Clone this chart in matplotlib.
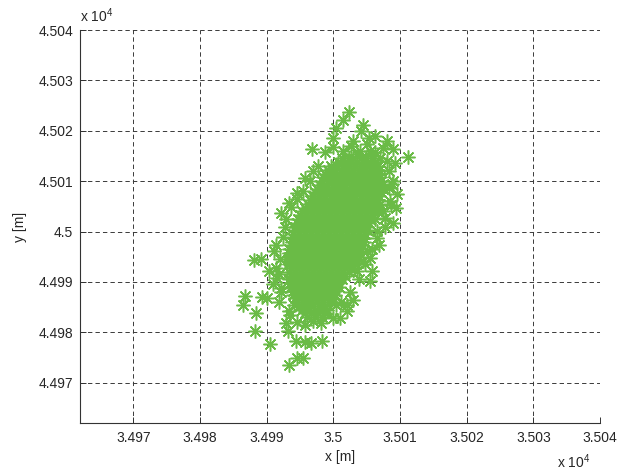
import matplotlib.pyplot as plt
from matplotlib.ticker import FuncFormatter, MultipleLocator

plt.rcParams['font.family'] = ['Liberation Sans', 'DejaVu Sans']
plt.rcParams['mathtext.fontset'] = 'custom'
plt.rcParams['mathtext.rm'] = 'Liberation Sans'

# reference point of the local grid [m]; positions below are offsets from it
ref_x, ref_y = 35000.0, 45000.0

# dense centre of the cloud, read row by row (north offset, east offsets)
core_y = [14.5, 13.75, 13.0, 12.25, 11.5, 10.75, 10.0, 9.25, 8.5, 7.75, 7.0,
          6.25, 5.5, 4.75, 4.0, 3.25, 2.5, 1.75, 1.0, 0.25, -0.5, -1.25,
          -2.0, -2.75, -3.5, -4.25, -5.0, -5.75, -6.5, -7.25, -8.0, -8.75,
          -9.5, -10.25, -11.0, -11.75, -12.5, -13.25, -14.0, -14.75, -15.5,
          -16.25, -17.0]
core_x = [
    [1.3, 2.3, 3.0, 4.1, 4.9, 5.9],
    [0.7, 1.7, 2.6, 3.6, 4.5, 5.5, 6.3],
    [-0.3, 0.6, 1.6, 2.4, 3.3, 4.3, 5.1, 6.0, 6.7],
    [-0.8, 0.1, 1.1, 2.0, 3.0, 3.9, 4.8, 5.8, 6.8],
    [-1.3, -0.4, 0.5, 1.5, 2.3, 3.2, 4.1, 5.1, 5.9, 6.9],
    [-1.5, -0.5, 0.4, 1.4, 2.3, 3.3, 4.2, 5.2, 6.1, 7.0],
    [-1.7, -0.8, 0.2, 1.0, 1.9, 2.9, 3.7, 4.6, 5.5, 6.4, 7.2],
    [-2.0, -1.1, -0.1, 0.8, 1.8, 2.7, 3.6, 4.5, 5.5, 6.4, 7.3],
    [-2.4, -1.5, -0.6, 0.3, 1.2, 2.1, 3.1, 3.9, 4.8, 5.7, 6.6, 7.4],
    [-2.8, -1.8, -0.9, 0.1, 1.0, 1.9, 2.8, 3.8, 4.7, 5.6, 6.5, 7.1],
    [-3.1, -2.2, -1.3, -0.4, 0.5, 1.4, 2.3, 3.2, 4.1, 5.0, 5.9, 6.8],
    [-3.5, -2.5, -1.6, -0.7, 0.2, 1.1, 2.0, 3.0, 3.9, 4.8, 5.7, 6.6],
    [-3.8, -2.9, -2.0, -1.1, -0.2, 0.7, 1.6, 2.5, 3.4, 4.3, 5.2, 6.1, 7.0],
    [-4.2, -3.3, -2.4, -1.5, -0.6, 0.3, 1.2, 2.1, 3.0, 3.9, 4.8, 5.7, 6.5],
    [-4.7, -3.8, -2.9, -2.0, -1.1, -0.2, 0.7, 1.6, 2.5, 3.4, 4.3, 5.2, 6.1, 6.6],
    [-5.0, -4.1, -3.2, -2.3, -1.4, -0.5, 0.4, 1.3, 2.2, 3.1, 4.0, 4.9, 5.8],
    [-5.3, -4.4, -3.5, -2.6, -1.7, -0.8, 0.1, 1.0, 1.9, 2.8, 3.7, 4.6, 5.5, 6.2],
    [-5.5, -4.6, -3.7, -2.8, -1.9, -1.0, -0.1, 0.8, 1.7, 2.6, 3.5, 4.4, 5.3],
    [-5.7, -4.8, -3.9, -3.0, -2.1, -1.2, -0.3, 0.6, 1.5, 2.4, 3.3, 4.2, 5.1],
    [-5.8, -4.9, -4.0, -3.1, -2.2, -1.3, -0.4, 0.5, 1.4, 2.3, 3.2, 4.1, 5.0],
    [-6.0, -5.1, -4.2, -3.3, -2.4, -1.5, -0.6, 0.3, 1.2, 2.1, 3.0, 3.9, 4.8],
    [-6.1, -5.2, -4.3, -3.4, -2.5, -1.6, -0.7, 0.2, 1.1, 2.0, 2.9, 3.8, 4.6],
    [-6.2, -5.3, -4.4, -3.5, -2.6, -1.7, -0.8, 0.1, 1.0, 1.9, 2.8, 3.7, 4.6],
    [-6.4, -5.5, -4.6, -3.7, -2.8, -1.9, -1.0, -0.1, 0.8, 1.7, 2.6, 3.5, 4.3],
    [-6.6, -5.7, -4.8, -3.9, -3.0, -2.1, -1.2, -0.3, 0.6, 1.5, 2.4, 3.3, 4.2],
    [-6.6, -5.7, -4.8, -3.9, -3.0, -2.1, -1.2, -0.3, 0.6, 1.5, 2.4, 3.3, 3.9],
    [-6.7, -5.8, -4.9, -4.0, -3.1, -2.2, -1.3, -0.4, 0.5, 1.4, 2.3, 3.2, 3.8],
    [-6.7, -5.8, -4.9, -4.0, -3.1, -2.2, -1.3, -0.4, 0.5, 1.4, 2.3, 3.3],
    [-6.7, -5.8, -4.9, -4.0, -3.1, -2.2, -1.3, -0.4, 0.5, 1.4, 2.3, 3.2],
    [-6.4, -5.5, -4.6, -3.7, -2.8, -1.9, -1.0, -0.1, 0.8, 1.7, 2.7],
    [-6.7, -5.8, -4.9, -4.0, -3.1, -2.2, -1.3, -0.4, 0.5, 1.4, 2.3],
    [-6.4, -5.5, -4.6, -3.7, -2.8, -1.9, -1.0, -0.1, 0.8, 1.8],
    [-6.7, -5.8, -4.9, -4.0, -3.1, -2.2, -1.3, -0.4, 0.5, 1.3],
    [-6.5, -5.6, -4.7, -3.8, -2.9, -2.0, -1.1, -0.2, 0.7],
    [-6.3, -5.4, -4.5, -3.6, -2.7, -1.8, -0.9, 0.0, 0.8],
    [-6.1, -5.2, -4.3, -3.4, -2.5, -1.6, -0.7, 0.3],
    [-6.0, -5.1, -4.2, -3.3, -2.4, -1.5, -0.6, 0.3],
    [-5.7, -4.8, -3.9, -3.0, -2.1, -1.2, -0.2],
    [-5.5, -4.5, -3.5, -2.5, -1.5, -0.4],
    [-5.1, -4.1, -3.1, -2.1, -1.2],
    [-4.7, -3.7, -2.7, -1.7, -0.9],
    [-4.3, -3.3, -2.3, -1.3],
    [-3.9, -2.8, -1.7],
]

# scattered points around the centre (east, north offsets)
out_x = [2.4, 1.4, 0.45, -0.05, 4.4, 4.1, 5.3, 6.3, 8.0, 9.0, 11.2, 9.3,
         -3.2, -1.2, 2.7, 1.5, -2.3, -3.1, -4.3, -5.4, -6.6, -7.9, -7.1,
         9.0, 9.5, 9.4, 9.0, 7.8, 6.8, 5.5, 5.8, 5.5, 3.0, 2.0, 1.0,
         -8.6, -8.9, -11.9, -10.8, -9.6, -8.6, -9.1, -13.2, -13.6, -10.7,
         -9.9, -8.1, -11.6, -11.7, -7.1, -6.8, -9.5, -5.6, -4.3, -3.3, -1.7,
         -5.4, -4.6, -6.6, -4.3, -3.1, -1.8, -0.05, 0.45, 2.0, -6.6, -5.9,
         -7.9, -8.4, 3.5, 4.5, 5.0, 6.5, 7.5, 8.5, 8.3, 7.0, 5.5, 7.5, 3.5,
         -3.5, -4.6, -5.5, -6.3, -7.2, -7.6, -8.0, -8.2, -7.8, -6.5, -5.5,
         8.3, 8.8, 8.6, 7.8, 6.6, 5.8, 4.8, 3.8, 2.5, 1.2, 6.2, 8.0,
         0.0, 3.0, 5.0, 4.0]
out_y = [23.8, 22.1, 20.6, 18.6, 21.1, 19.9, 18.6, 19.0, 18.0, 16.3, 14.8, 13.7,
         16.4, 15.8, 17.0, 16.0, 13.0, 12.0, 10.7, 7.7, 5.7, 3.7, 2.4,
         10.0, 7.4, 4.7, 1.7, 2.7, -2.6, -5.2, -7.9, -9.9, -13.5, -15.8, -17.2,
         -2.6, -3.9, -5.6, -5.4, -7.9, -7.2, -10.5, -12.7, -14.5, -12.9,
         -13.1, -13.9, -16.2, -19.7, -18.2, -19.8, -22.3, -21.8, -21.9, -22.1, -21.8,
         -25.1, -25.1, -26.4, -18.5, -17.8, -18.2, -17.2, -14.5, -14.5, -15.8, -14.5,
         -11.2, -9.2, -7.9, -5.9, -3.9, 0.1, 4.0, 6.0, 8.7, 14.6, 16.0, 16.6, 15.3,
         10.0, 8.0, 6.5, 4.8, 1.0, -1.0, -5.5, -8.5, -12.0, -16.5, -18.0,
         12.0, 9.5, 5.2, 1.0, -1.2, -3.5, -6.5, -9.5, -12.0, -14.0, 15.8, 14.0,
         16.8, 18.0, 17.3, 16.0]

xs = [ref_x + v for row in core_x for v in row] + [ref_x + v for v in out_x]
ys = [ref_y + yy for yy, row in zip(core_y, core_x) for _ in row] + [ref_y + v for v in out_y]

fig = plt.figure(figsize=(6.32, 4.72), dpi=100)
ax = fig.add_axes([80 / 632, 49 / 472, 520 / 632, 393 / 472])

ax.plot(xs, ys, linestyle='none', marker=(8, 2, 0), ms=10, mew=1.1,
        color='#6abb46', zorder=3)

ax.set_xlim(34962, 35040)
ax.set_ylim(44962, 45040)
ax.xaxis.set_major_locator(MultipleLocator(10))
ax.yaxis.set_major_locator(MultipleLocator(10))
fmt = FuncFormatter(lambda v, p: f'{v / 1e4:g}')
ax.xaxis.set_major_formatter(fmt)
ax.yaxis.set_major_formatter(fmt)

ax.grid(True, color='#3a3a3a', linestyle=(0, (4.5, 3.2)), linewidth=0.7, zorder=1)
ax.set_axisbelow(True)
for s in ['top', 'right']:
    ax.spines[s].set_visible(False)
for s in ['left', 'bottom']:
    ax.spines[s].set_color('#333333')
    ax.spines[s].set_linewidth(0.8)
ax.tick_params(direction='in', length=4, width=0.7, color='#333333',
               labelsize=10, labelcolor='#262626')
ax.tick_params(axis='x', pad=6)
ax.tick_params(axis='y', pad=5)

ax.set_xlabel('x [m]', fontsize=10, color='#262626', labelpad=3)
ax.set_ylabel('y [m]', fontsize=10, color='#262626', labelpad=8)

fig.text(80 / 632, 1 - 22 / 472, r'x 10$^{4}$', fontsize=10, color='#262626',
         ha='left', va='baseline')
fig.text(590 / 632, 1 - 468 / 472, r'x 10$^{4}$', fontsize=10, color='#262626',
         ha='right', va='baseline')

fig.savefig('out.png', dpi=100)
